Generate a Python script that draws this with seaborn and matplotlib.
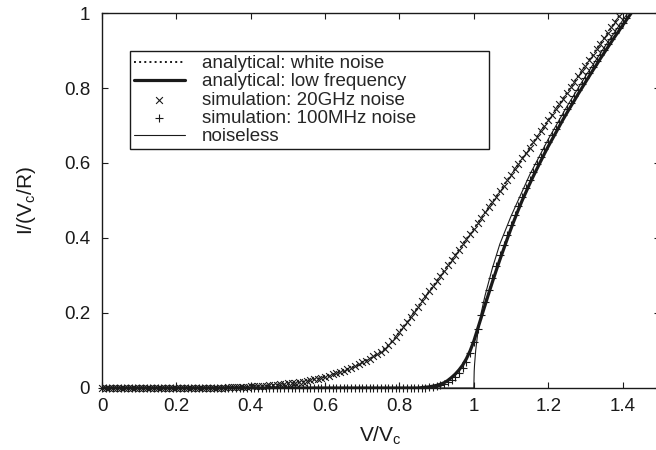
import matplotlib
matplotlib.use('Agg')
import matplotlib.pyplot as plt
import seaborn as sns
from matplotlib.ticker import FuncFormatter

# voltage grid V/Vc, step 0.01 from 0 to 1.5
v = [round(0.01 * k, 2) for k in range(151)]

# analytical: white noise
white_noise = [
    0, 0, 0, 0, 0, 0, 0, 0, 0, 0,
    0, 0, 0, 0, 0, 0, 0, 0, 0, 0,
    0, 0, 0, 0, 0, 0, 0, 0, 0, 0,
    0.001, 0.001, 0.001, 0.001, 0.002, 0.002, 0.002, 0.003, 0.003, 0.003,
    0.004, 0.004, 0.005, 0.005, 0.006, 0.007, 0.008, 0.009, 0.010, 0.011,
    0.012, 0.013, 0.014, 0.015, 0.017, 0.019, 0.021, 0.023, 0.025, 0.027,
    0.030, 0.033, 0.036, 0.039, 0.042, 0.046, 0.050, 0.054, 0.058, 0.063,
    0.068, 0.073, 0.078, 0.084, 0.090, 0.097, 0.105, 0.114, 0.124, 0.136,
    0.150, 0.163, 0.176, 0.190, 0.203, 0.217, 0.231, 0.244, 0.258, 0.271,
    0.285, 0.299, 0.313, 0.327, 0.341, 0.355, 0.369, 0.383, 0.397, 0.411,
    0.425, 0.439, 0.453, 0.468, 0.482, 0.496, 0.510, 0.525, 0.539, 0.554,
    0.568, 0.583, 0.597, 0.612, 0.626, 0.641, 0.656, 0.670, 0.685, 0.699,
    0.714, 0.729, 0.743, 0.758, 0.772, 0.787, 0.802, 0.816, 0.831, 0.845,
    0.860, 0.875, 0.889, 0.904, 0.918, 0.933, 0.947, 0.962, 0.976, 0.991,
    1.005, 1.019, 1.033, 1.047, 1.061, 1.075, 1.089, 1.103, 1.117, 1.131,
    1.145,
]

# analytical: low frequency
low_freq = [
    0, 0, 0, 0, 0, 0, 0, 0, 0, 0,
    0, 0, 0, 0, 0, 0, 0, 0, 0, 0,
    0, 0, 0, 0, 0, 0, 0, 0, 0, 0,
    0, 0, 0, 0, 0, 0, 0, 0, 0, 0,
    0, 0, 0, 0, 0, 0, 0, 0, 0, 0,
    0, 0, 0, 0, 0, 0, 0, 0, 0, 0,
    0, 0, 0, 0, 0, 0, 0, 0, 0, 0,
    0, 0, 0, 0, 0, 0, 0, 0, 0, 0,
    0, 0, 0, 0, 0, 0, 0.001, 0.002, 0.003, 0.005,
    0.007, 0.010, 0.014, 0.020, 0.028, 0.037, 0.048, 0.061, 0.078, 0.099,
    0.125, 0.157, 0.189, 0.221, 0.252, 0.283, 0.313, 0.342, 0.370, 0.398,
    0.425, 0.451, 0.476, 0.500, 0.522, 0.544, 0.565, 0.585, 0.605, 0.625,
    0.644, 0.662, 0.680, 0.698, 0.716, 0.733, 0.750, 0.766, 0.783, 0.799,
    0.815, 0.831, 0.847, 0.862, 0.878, 0.893, 0.908, 0.923, 0.938, 0.952,
    0.967, 0.981, 0.995, 1.010, 1.024, 1.038, 1.052, 1.066, 1.080, 1.094,
    1.107,
]

# simulation: 20GHz noise (sits on the white noise curve, up to V=1.39)
sim_20ghz = white_noise[:140]

# simulation: 100MHz noise, V = 0 ... 1.41
sim_100mhz = [
    0, 0, 0, 0, 0, 0, 0, 0, 0, 0,
    0, 0, 0, 0, 0, 0, 0, 0, 0, 0,
    0, 0, 0, 0, 0, 0, 0, 0, 0, 0,
    0, 0, 0, 0, 0, 0, 0, 0, 0, 0,
    0, 0, 0, 0, 0, 0, 0, 0, 0, 0,
    0, 0, 0, 0, 0, 0, 0, 0, 0, 0,
    0, 0, 0, 0, 0, 0, 0, 0, 0, 0,
    0, 0, 0, 0, 0, 0, 0, 0, 0, 0,
    0, 0, 0, 0, 0, 0, 0, 0.001, 0.002, 0.003,
    0.005, 0.007, 0.010, 0.015, 0.021, 0.029, 0.040, 0.053, 0.070, 0.093,
    0.122, 0.158, 0.194, 0.228, 0.261, 0.293, 0.324, 0.354, 0.382, 0.409,
    0.435, 0.460, 0.485, 0.509, 0.532, 0.554, 0.575, 0.596, 0.616, 0.636,
    0.655, 0.674, 0.692, 0.710, 0.727, 0.744, 0.761, 0.778, 0.794, 0.810,
    0.826, 0.841, 0.857, 0.872, 0.887, 0.902, 0.917, 0.931, 0.946, 0.960,
    0.974, 0.988,
]

# noiseless
v_noiseless = [0.0, 1.0, 1.001, 1.002, 1.005, 1.01, 1.02, 1.03, 1.05, 1.07,
               1.1, 1.15, 1.2, 1.25, 1.3, 1.35, 1.4, 1.45, 1.5]
i_noiseless = [0.0, 0.0, 0.045, 0.063, 0.100, 0.142, 0.201, 0.246, 0.320, 0.384,
               0.458, 0.568, 0.663, 0.750, 0.831, 0.907, 0.980, 1.050, 1.118]

labels = ['analytical: white noise', 'analytical: low frequency',
          'simulation: 20GHz noise', 'simulation: 100MHz noise', 'noiseless']

sns.set_theme(style='ticks')
plt.rcParams['font.family'] = ['Liberation Sans', 'DejaVu Sans']
plt.rcParams['mathtext.default'] = 'regular'

fig = plt.figure(figsize=(6.56, 4.5), dpi=100)
ax = fig.add_axes([0.1555, 0.1378, 0.8502, 0.8333])

sns.lineplot(x=v, y=white_noise, ax=ax, color='k', linestyle=':', linewidth=1.4,
             sort=False, estimator=None, label=labels[0])
sns.lineplot(x=v, y=low_freq, ax=ax, color='k', linewidth=2.3,
             sort=False, estimator=None, label=labels[1])
sns.scatterplot(x=v[:len(sim_20ghz)], y=sim_20ghz, ax=ax, marker='x', color='k',
                s=24, linewidth=0.8, clip_on=False, zorder=3, label=labels[2])
sns.scatterplot(x=v[:len(sim_100mhz)], y=sim_100mhz, ax=ax, marker='+', color='k',
                s=32, linewidth=0.8, clip_on=False, zorder=3, label=labels[3])
sns.lineplot(x=v_noiseless, y=i_noiseless, ax=ax, color='k', linewidth=0.8,
             sort=False, estimator=None, label=labels[4])

ax.set_xlim(0, 1.5)
ax.set_ylim(0, 1)
ax.set_xticks([0, 0.2, 0.4, 0.6, 0.8, 1.0, 1.2, 1.4])
ax.set_yticks([0, 0.2, 0.4, 0.6, 0.8, 1.0])
fmt = FuncFormatter(lambda val, pos: '%g' % val)
ax.xaxis.set_major_formatter(fmt)
ax.yaxis.set_major_formatter(fmt)
ax.tick_params(direction='in', top=True, right=True, length=4.5, width=0.8,
               labelsize=13.5, colors='k')
ax.tick_params(axis='x', pad=7)
ax.tick_params(axis='y', pad=8.5)
for sp in ax.spines.values():
    sp.set_linewidth(1.0)
    sp.set_color('k')

ax.set_xlabel(r'V/V$_c$', fontsize=15, color='k')
ax.set_ylabel(r'I/(V$_c$/R)', fontsize=15, color='k')
ax.xaxis.set_label_coords(0.5, -0.099)
ax.yaxis.set_label_coords(-0.115, 0.5)

handles, labs = ax.get_legend_handles_labels()
order = [labs.index(l) for l in labels]
leg = ax.legend([handles[i] for i in order], [labs[i] for i in order],
                loc='upper left', bbox_to_anchor=(130 / 656, 1 - 146 / 450, 359 / 656, 95 / 450),
                bbox_transform=fig.transFigure, mode='expand', borderaxespad=0,
                fancybox=False, edgecolor='k', framealpha=1, handlelength=2.7,
                handletextpad=0.9, labelspacing=0.06, borderpad=0.22, fontsize=13.5,
                scatterpoints=1)
leg.get_frame().set_linewidth(1.0)

plt.savefig('out.png', dpi=100)
